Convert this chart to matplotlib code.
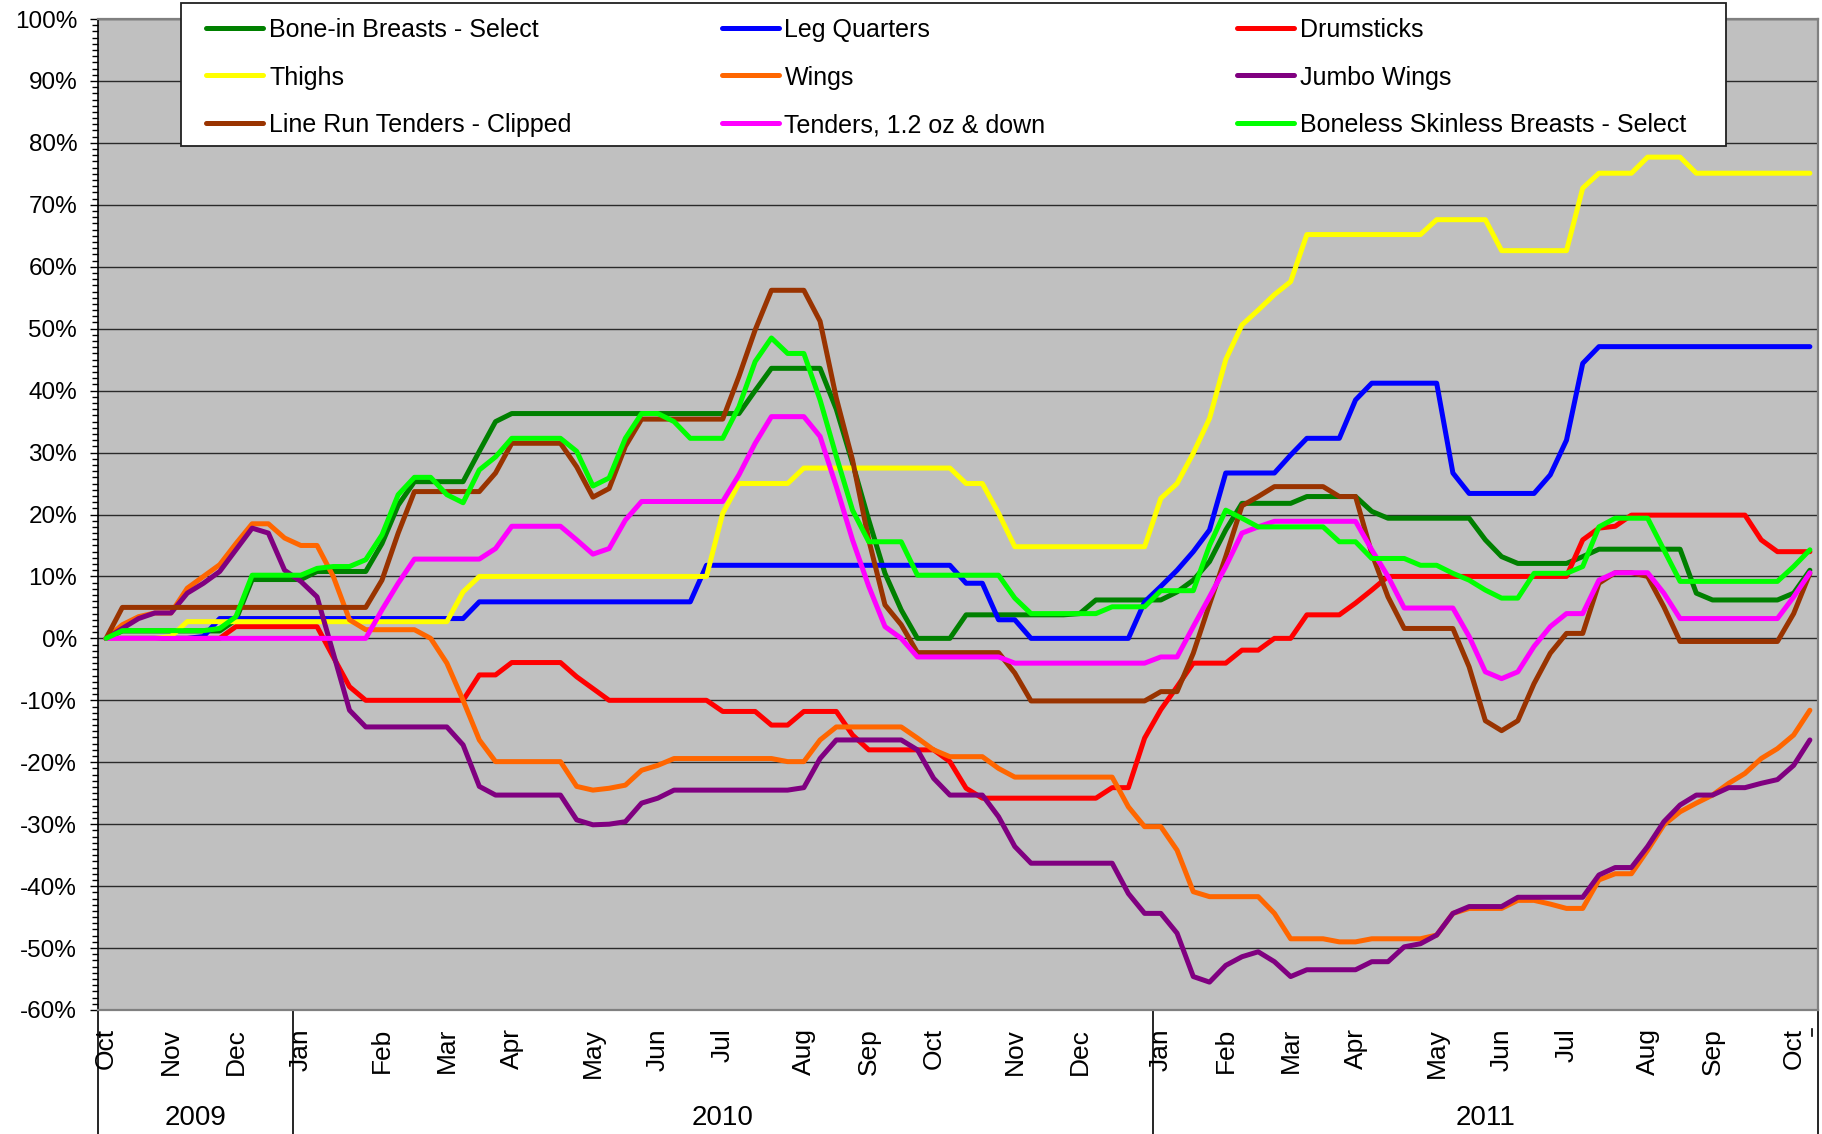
import numpy as np
import matplotlib
matplotlib.use("Agg")
import matplotlib.pyplot as plt
from matplotlib.lines import Line2D
from matplotlib.patches import Rectangle
import matplotlib.transforms as mtransforms
from matplotlib.ticker import MultipleLocator, FuncFormatter

plt.rcParams['font.family'] = ['Liberation Sans', 'DejaVu Sans']

# ---------------- data (weekly % change, Oct 2009 - Oct 2011) ----------------
bone_in_breasts = ([0, 1.2, 1.2, 1.2, 1.2, 1.2, 1.2, 1.2, 3]
                   + [9.5, 9.5, 9.5, 9.5, 10.8, 10.8, 10.8, 10.8]
                   + [15.3, 21.5, 25.3, 25.3, 25.3, 25.3, 30.2, 35, 36.3]
                   + [36.3] * 14
                   + [40, 43.6, 43.6, 43.6, 43.6, 37, 28.3, 19.1, 10.5, 4.6, 0, 0, 0]
                   + [3.8] * 7 + [4]
                   + [6.2, 6.2, 6.2, 6.2, 6.2, 7.5, 9.4]
                   + [12.4, 17.5, 21.8, 21.8, 21.8, 21.8, 22.9, 22.9, 22.9, 22.9]
                   + [20.5, 19.4, 19.4, 19.4, 19.4, 19.4, 19.4, 15.9, 13.2, 12.1]
                   + [12.1, 12.1, 12.1, 13.2, 14.4, 14.4, 14.4, 14.4, 14.4, 14.4]
                   + [7.3, 6.2, 6.2, 6.2, 6.2, 6.2, 7.3, 11])

leg_quarters = ([0] * 6 + [0.3] + [3.2] * 16 + [5.9] * 14 + [11.8] * 16
                + [8.9, 8.9, 3, 3] + [0] * 7
                + [5.9, 8.4, 11, 14, 17.5, 26.7, 26.7, 26.7, 26.7, 29.6, 32.3, 32.3, 32.3, 38.5]
                + [41.2] * 5 + [26.7] + [23.4] * 5 + [26.4, 32, 44.4] + [47.1] * 14)

drumsticks = ([0] * 8 + [1.9] * 6 + [-3, -7.8] + [-10] * 7 + [-5.9, -5.9] + [-3.9] * 4
              + [-6.2, -8.1] + [-10] * 7 + [-11.8] * 3 + [-14, -14] + [-11.8] * 3
              + [-15.6] + [-18] * 5 + [-19.9, -24.2] + [-25.8] * 8
              + [-24.1, -24.1, -16.1, -11.5, -7.8, -4, -4, -4, -1.9, -1.9, 0, 0]
              + [3.8] * 3 + [5.7, 7.8] + [10] * 12 + [15.9, 17.8, 18.1] + [19.9] * 8
              + [15.9] + [14] * 3)

thighs = ([0, 0, 0, 0, 0.3] + [2.7] * 17 + [7.5, 10] + [10] * 14
          + [20.2, 25, 25, 25, 25, 27.5] + [27.5] * 9 + [25, 25, 20.2, 14.8] + [14.8] * 8
          + [22.6, 25, 29.9, 35.5, 45, 50.6, 53, 55.5, 57.6, 65.2] + [65.2] * 7
          + [67.6, 67.6, 67.6, 67.6, 62.6, 62.6, 62.6, 62.6, 62.6, 72.7, 75.1, 75.1, 75.1,
             77.7, 77.7, 77.7]
          + [75.1] * 8)

wings = ([0, 2.2, 3.5, 4.1, 4.1, 8.1, 10, 11.9, 15.3, 18.5, 18.5, 16.2, 15, 15, 10, 3]
         + [1.4] * 4 + [0, -4, -10, -16.4] + [-19.9] * 5
         + [-23.9, -24.5, -24.2, -23.7, -21.3, -20.5] + [-19.4] * 7
         + [-19.9, -19.9, -16.4] + [-14.3] * 5 + [-16.1, -18] + [-19.1] * 3 + [-21]
         + [-22.4] * 7 + [-27.2, -30.4, -30.4, -34.2, -40.9] + [-41.7] * 4 + [-44.4]
         + [-48.5] * 3 + [-49, -49] + [-48.5] * 4 + [-47.9, -44.4] + [-43.6] * 3
         + [-42.3, -42.3, -42.9, -43.6, -43.6, -39, -38, -38, -34.2, -30.1, -28, -26.6,
            -25.3, -23.4, -21.8, -19.4, -17.8, -15.6, -11.6])

jumbo_wings = ([0, 1.6, 3.2, 4.1, 4.1, 7.3, 8.9, 10.8, 14.3, 17.8, 17, 11, 9.2, 6.7, -2.4, -11.6]
               + [-14.3] * 6 + [-17.2, -23.9] + [-25.3] * 5
               + [-29.3, -30.1, -30, -29.6, -26.6, -25.8] + [-24.5] * 8 + [-24.1, -19.4]
               + [-16.4] * 5 + [-18, -22.6] + [-25.3] * 3 + [-28.8, -33.6] + [-36.3] * 6
               + [-41.2, -44.4, -44.4, -47.6, -54.6, -55.5, -52.8, -51.4, -50.6, -52.2, -54.6]
               + [-53.5] * 4 + [-52.2, -52.2, -49.8, -49.3, -47.9, -44.4] + [-43.3] * 3
               + [-41.8] * 5
               + [-38.2, -37, -37, -33.6, -29.6, -26.9, -25.3, -25.3, -24.1, -24.1, -23.4,
                  -22.8, -20.5, -16.4])

line_run_tenders = ([0] + [5] * 16
                    + [9.4, 17, 23.7, 23.7, 23.7, 23.7, 23.7, 26.7, 31.5, 31.5, 31.5, 31.5,
                       27.7, 22.8, 24.2]
                    + [31, 35.4, 35.4, 35.4, 35.4, 35.4, 35.4, 42.3, 49.8, 56.2, 56.2, 56.2,
                       51.2, 38.8, 28.8, 15.9, 5.4, 2.2, -2.3]
                    + [-2.3] * 5 + [-5.6] + [-10.1] * 8
                    + [-8.6, -8.6, -2.4, 5.5, 13.2, 21.4]
                    + [22.9, 24.5, 24.5, 24.5, 24.5, 22.9, 22.9, 13.7, 6.7, 1.6]
                    + [1.6, 1.6, 1.6, -4.6, -13.3, -14.9, -13.3, -7.3, -2.4, 0.8]
                    + [0.8, 8.9, 10.6, 10.6, 10.0, 5.1, -0.5, -0.5, -0.5, -0.5]
                    + [-0.5, -0.5, -0.5, 4, 10.5])

tenders_small = ([0] * 17
                 + [4.6, 8.9, 12.8, 12.8, 12.8, 12.8, 12.8, 14.5, 18.1, 18.1, 18.1, 18.1,
                    15.9, 13.6, 14.5]
                 + [19.1] + [22.1] * 6 + [26.4, 31.5, 35.8, 35.8, 35.8, 32.6, 24.5, 15.9,
                                          8.4, 1.9, 0, -3]
                 + [-3] * 5 + [-4] * 9 + [-3, -3, 1.9]
                 + [6.7, 11.6, 17, 18] + [18.9] * 6 + [14.3, 10, 4.9]
                 + [4.9, 4.9, 4.9, 0.3, -5.4, -6.5, -5.4, -1.3, 1.9, 4, 4, 9.4, 10.6, 10.6,
                    10.6]
                 + [7.3, 3.2] + [3.2] * 6 + [6.7, 10.6])

boneless_skinless = ([0, 1.25, 1.25, 1.25, 1.25, 1.25, 1.25, 1.6, 3.5]
                     + [10.2, 10.2, 10.2, 10.2, 11.3, 11.6, 11.6, 12.7]
                     + [16.7, 23.2, 26, 26, 23.2, 21.9, 27.2, 29.3, 32.3, 32.3, 32.3, 32.3,
                        30.2, 24.6, 25.9]
                     + [32.3, 36.3, 36.3, 35, 32.3, 32.3, 32.3, 37.4, 44.7, 48.5, 46, 46,
                        38.5, 29.4, 20.7, 15.6, 15.6, 15.6, 10.2]
                     + [10.2] * 5 + [6.5, 4, 4, 4, 4, 4, 5.1, 5.1, 5.1, 7.7, 7.7, 7.7]
                     + [15, 20.7, 19.4, 18, 18, 18, 18, 18, 15.6, 15.6, 12.9, 12.9, 12.9]
                     + [11.8, 11.8, 10.5, 9.4, 7.8, 6.5, 6.5, 10.5, 10.5, 10.5, 11.6, 18,
                        19.4, 19.4, 19.4]
                     + [14.3] + [9.2] * 7 + [11.6, 14.3])

series_names = ["Bone-in Breasts - Select", "Leg Quarters", "Drumsticks",
                "Thighs", "Wings", "Jumbo Wings",
                "Line Run Tenders - Clipped", "Tenders, 1.2 oz & down",
                "Boneless Skinless Breasts - Select"]
series_values = [bone_in_breasts, leg_quarters, drumsticks, thighs, wings, jumbo_wings,
                 line_run_tenders, tenders_small, boneless_skinless]
series_colors = ["#008000", "#0000FF", "#FF0000", "#FFFF00", "#FF6600", "#800080",
                 "#993300", "#FF00FF", "#00FF00"]

month_labels = ["Oct", "Nov", "Dec", "Jan", "Feb", "Mar", "Apr", "May", "Jun", "Jul", "Aug",
                "Sep", "Oct", "Nov", "Dec", "Jan", "Feb", "Mar", "Apr", "May", "Jun", "Jul",
                "Aug", "Sep", "Oct"]
month_pos = [0, 4, 8, 12, 17, 21, 25, 30, 34, 38, 43, 47, 51, 56, 60, 65, 69, 73, 77, 82,
             86, 90, 95, 99, 104]
year_labels = ["2009", "2010", "2011"]
year_bounds = [-0.5, 11.5, 64.5, 105.5]

# ---------------- figure ----------------
W, H = 1822, 1134
fig = plt.figure(figsize=(W / 100, H / 100), dpi=100)
fig.patch.set_facecolor("white")
L, R, T, B = 98, 1818, 19, 1010
ax = fig.add_axes([L / W, 1 - B / H, (R - L) / W, (B - T) / H])
ax.set_facecolor("#C0C0C0")

n = len(bone_in_breasts)
xs = np.arange(n)
for vals, col in zip(series_values, series_colors):
    ax.plot(xs[:len(vals)], vals, color=col, lw=3.6,
            solid_joinstyle="round", solid_capstyle="round", zorder=3)

ax.set_xlim(-0.5, n - 0.5)
ax.set_ylim(-60, 100)

ax.yaxis.set_major_locator(MultipleLocator(10))
ax.yaxis.set_minor_locator(MultipleLocator(1))
ax.yaxis.set_major_formatter(FuncFormatter(lambda v, p: f"{int(round(v))}%"))
ax.yaxis.grid(True, which="major", color="#2a2a2a", lw=1.0)
ax.set_axisbelow(True)
ax.tick_params(axis="y", which="major", length=6, width=1, direction="out",
               labelsize=17.5, pad=9, colors="black")
ax.tick_params(axis="y", which="minor", length=4, width=1, direction="out")

ax.set_xticks(month_pos)
ax.set_xticklabels(month_labels, rotation=90, fontsize=19)
ax.tick_params(axis="x", which="both", length=0, pad=13)

for side in ["top", "right", "bottom"]:
    ax.spines[side].set_color("#808080")
    ax.spines[side].set_linewidth(1.6)
ax.spines["left"].set_color("black")
ax.spines["left"].set_linewidth(1.2)

# year level of the category axis
trans = mtransforms.blended_transform_factory(ax.transData, ax.transAxes)
depth = -(H - B) / (B - T)
for b in year_bounds:
    ax.add_line(Line2D([b, b], [0, depth], transform=trans, color="black", lw=1.2,
                       clip_on=False))
for k, yl in enumerate(year_labels):
    xc = (year_bounds[k] + year_bounds[k + 1]) / 2
    ax.text(xc, -108 / (B - T), yl, transform=trans, ha="center", va="center",
            fontsize=20)

# small dash mark after the last month label
ax.add_line(Line2D([n - 0.9, n - 0.9], [-19 / (B - T), -26 / (B - T)], transform=trans,
                   color="black", lw=1.2, clip_on=False))

# ---------------- legend (drawn as a boxed 3-column key) ----------------
def fx(px):
    return px / W


def fy(py):
    return 1 - py / H


box = Rectangle((fx(181), fy(146)), (1726 - 181) / W, (146 - 3.5) / H,
                transform=fig.transFigure, facecolor="white", edgecolor="#202020",
                lw=1.3, zorder=5)
fig.add_artist(box)
for k, (name, col) in enumerate(zip(series_names, series_colors)):
    row, cidx = divmod(k, 3)
    hx0 = 206 + 515.5 * cidx
    hx1 = hx0 + 57
    ty = 27.5 + 47.7 * row
    fig.add_artist(Line2D([fx(hx0), fx(hx1)], [fy(ty), fy(ty)], transform=fig.transFigure,
                          color=col, lw=3.6, solid_capstyle="round", zorder=6))
    fig.text(fx(hx1 + 6), fy(ty), name, ha="left", va="center_baseline", fontsize=18,
             zorder=6)

fig.savefig("out.png", dpi=100, facecolor="white")
